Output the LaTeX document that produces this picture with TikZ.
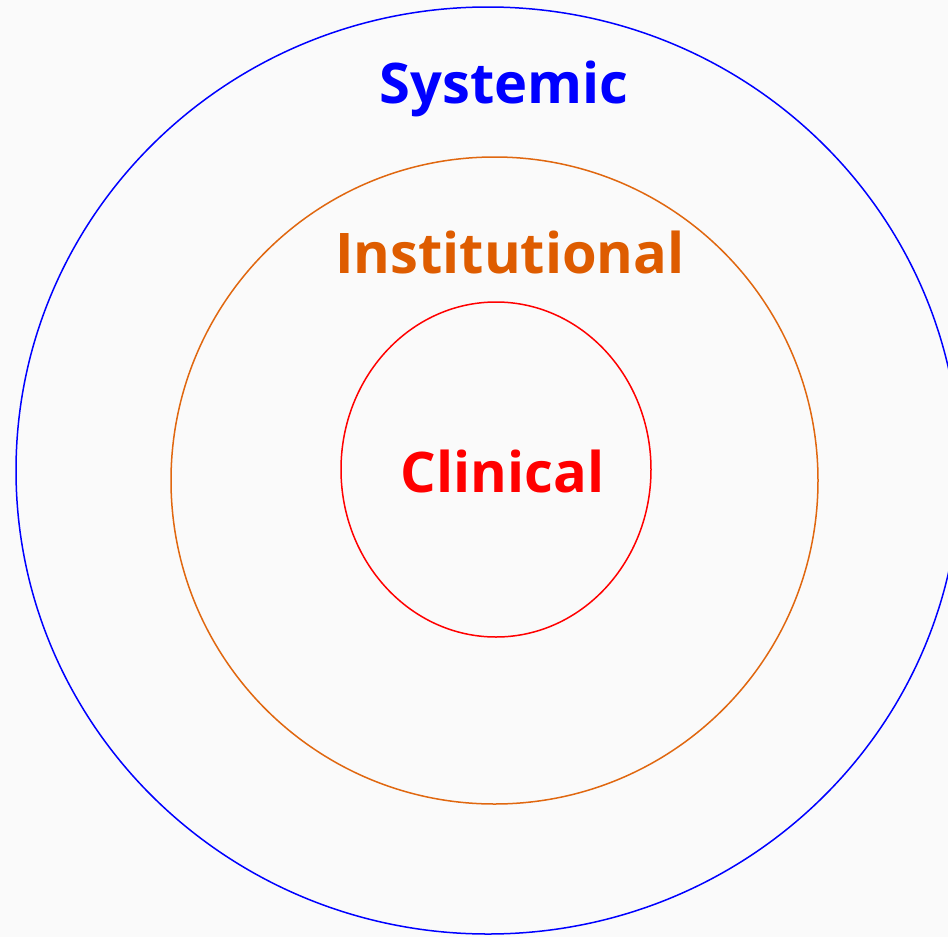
\documentclass[tikz,border=0pt]{standalone}
\usepackage{fontspec}
\setmainfont{Open Sans}
\usepackage{xcolor}
\usetikzlibrary{positioning}

\definecolor{paper}{HTML}{FAFAFA}
\definecolor{instorange}{HTML}{DE5C00}
\definecolor{ringorange}{HTML}{E0670F}

\tikzset{
  ring/.style={line width=1.5pt},
  layerlabel/.style={anchor=base, inner sep=0pt, font=\bfseries\fontsize{56}{56}\selectfont},
}

\begin{document}
\begin{tikzpicture}[x=1pt,y=-1pt]
\fill[paper] (0,0) rectangle (948,937);
\useasboundingbox (0,0) rectangle (948,937);
\clip (0,0) rectangle (948,937);

% rings
\draw[ring, blue] (488,470.5) ellipse [x radius=472, y radius=463.5];
\draw[ring, ringorange] (494.5,480.5) ellipse [x radius=323.5, y radius=323.5];
\draw[ring, red] (496,469.5) ellipse [x radius=155, y radius=167.5];

% labels
\node[layerlabel, blue] (systemic) at (504,103) {Systemic};
\node[layerlabel, instorange] (institutional) at (510,273) {Institutional};
\node[layerlabel, red] (clinical) at (502.5,492) {Clinical};
\end{tikzpicture}
\end{document}
